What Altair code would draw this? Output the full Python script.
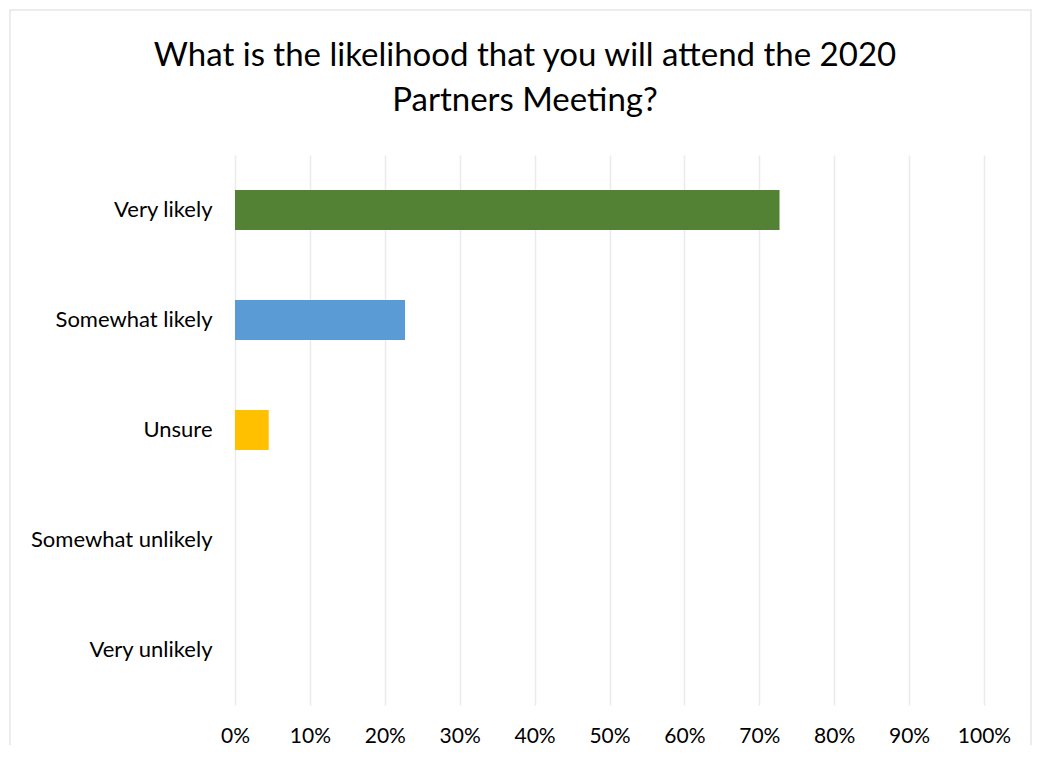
import altair as alt
import pandas as pd

categories = ["Very likely", "Somewhat likely", "Unsure", "Somewhat unlikely", "Very unlikely"]
shares = [0.727, 0.227, 0.045, 0.0, 0.0]
colors = ["#548235", "#5b9bd5", "#ffc000", "#a5a5a5", "#ed7d31"]
tick_values = [0, 0.1, 0.2, 0.3, 0.4, 0.5, 0.6, 0.7, 0.8, 0.9, 1.0]
title_lines = ["What is the likelihood that you will attend the 2020", "Partners Meeting?"]

df = pd.DataFrame({"category": categories, "share": shares, "color": colors})
title_df = pd.DataFrame({"line": title_lines, "idx": [0, 1]})

FONT = "Lato"

bars = alt.Chart(df).mark_bar(size=40).encode(
    y=alt.Y("category:N", sort=categories,
            scale=alt.Scale(paddingInner=0, paddingOuter=0),
            axis=alt.Axis(title=None, ticks=False, domain=False, labelPadding=23,
                          labelFontSize=22, labelFont=FONT, labelColor="#000000",
                          labelLimit=300)),
    x=alt.X("share:Q", scale=alt.Scale(domain=[0, 1], nice=False),
            axis=alt.Axis(title=None, format=".0%", values=tick_values, ticks=False,
                          domain=False, grid=True, gridColor="#ebebef", gridWidth=1.5,
                          labelPadding=20, labelFontSize=21, labelFont=FONT,
                          labelColor="#000000", labelFlush=False)),
    color=alt.Color("color:N", scale=None, legend=None),
)

border = alt.Chart(pd.DataFrame({"k": [0]})).mark_rect(
    fill=None, stroke="#e6e6e6", strokeWidth=1.5
).encode(
    x=alt.value(-225), x2=alt.value(796), y=alt.value(-145), y2=alt.value(640)
)

title_line1 = alt.Chart(title_df).transform_filter("datum.idx == 0").mark_text(
    font=FONT, fontSize=33, color="#000000", align="center", baseline="middle"
).encode(text="line:N", x=alt.value(290), y=alt.value(-99))

title_line2 = alt.Chart(title_df).transform_filter("datum.idx == 1").mark_text(
    font=FONT, fontSize=33, color="#000000", align="center", baseline="middle"
).encode(text="line:N", x=alt.value(290), y=alt.value(-54))

chart = alt.layer(border, bars, title_line1, title_line2).properties(
    width=749, height=550,
    autosize=alt.AutoSizeParams(type="none"),
    padding={"left": 227, "top": 147, "right": 48, "bottom": 40},
).configure(background="#ffffff").configure_view(strokeWidth=0)

chart.save("out.html", embed_options={"renderer": "svg", "actions": False})
